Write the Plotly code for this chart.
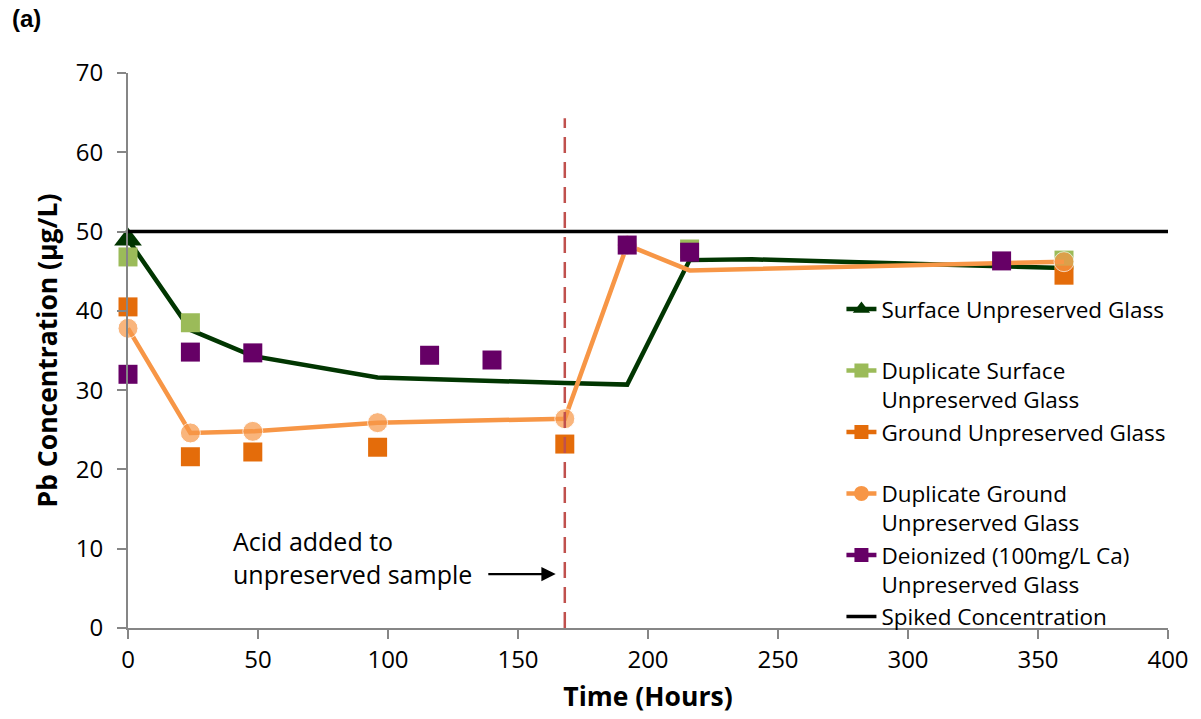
import plotly.graph_objects as go

# ---------------- data ----------------
surface_x = [0, 24, 48, 96, 168, 192, 216, 240, 360]
surface_y = [49.0, 37.6, 34.3, 31.6, 30.9, 30.7, 46.4, 46.5, 45.4]

dup_surface_x = [0, 24, 216, 360]
dup_surface_y = [46.8, 38.5, 47.8, 46.4]

ground_x = [0, 24, 48, 96, 168, 360]
ground_y = [40.5, 21.6, 22.2, 22.8, 23.2, 44.5]

dup_ground_x = [0, 24, 48, 96, 168, 192, 216, 360]
dup_ground_y = [37.8, 24.6, 24.8, 25.9, 26.4, 48.3, 45.1, 46.2]

deion_x = [0, 24, 48, 116, 140, 192, 216, 336]
deion_y = [32.0, 34.8, 34.7, 34.4, 33.8, 48.3, 47.4, 46.3]

spiked_x = [0, 400]
spiked_y = [50, 50]

acid_x = [168, 168]
acid_y = [0, 64.3]

x_ticks = [0, 50, 100, 150, 200, 250, 300, 350, 400]
y_ticks = [0, 10, 20, 30, 40, 50, 60, 70]

names = [
    "Surface Unpreserved Glass<br> ",
    "Duplicate Surface<br>Unpreserved Glass",
    "Ground Unpreserved Glass<br> ",
    "Duplicate Ground<br>Unpreserved Glass",
    "Deionized (100mg/L Ca)<br>Unpreserved Glass",
    "Spiked Concentration",
]

# ---------------- styles ----------------
C_SURF = "#013601"
C_DSURF = "#9BBB59"
C_GROUND = "#E46C0A"
C_DGROUND = "#F79646"
C_DEION = "#660066"
C_ACID = "#C0504D"
FONT = "Open Sans"

fig = go.Figure()

fig.add_trace(go.Scatter(
    x=surface_x, y=surface_y, mode="lines", showlegend=False, cliponaxis=False,
    line=dict(color=C_SURF, width=4.5),
))
fig.add_trace(go.Scatter(
    x=surface_x[:1], y=surface_y[:1], mode="markers", showlegend=False, cliponaxis=False,
    marker=dict(symbol="triangle-up", color=C_SURF, size=24),
))
fig.add_trace(go.Scatter(
    x=dup_surface_x, y=dup_surface_y, mode="markers", showlegend=False, cliponaxis=False,
    marker=dict(symbol="square", color=C_DSURF, size=19),
))
fig.add_trace(go.Scatter(
    x=ground_x, y=ground_y, mode="markers", showlegend=False, cliponaxis=False,
    marker=dict(symbol="square", color=C_GROUND, size=19),
))
fig.add_trace(go.Scatter(
    x=dup_ground_x, y=dup_ground_y, mode="lines+markers", showlegend=False, cliponaxis=False,
    line=dict(color=C_DGROUND, width=4.5),
    marker=dict(symbol="circle", color=C_DGROUND,
                size=[20 if x != 216 else 0 for x in dup_ground_x]),
))
fig.add_trace(go.Scatter(
    x=deion_x, y=deion_y, mode="markers", showlegend=False, cliponaxis=False,
    marker=dict(symbol="square", color=C_DEION, size=19),
))
fig.add_trace(go.Scatter(
    x=spiked_x, y=spiked_y, mode="lines", showlegend=False, cliponaxis=False,
    line=dict(color="black", width=3.5),
))
fig.add_trace(go.Scatter(
    x=acid_x, y=acid_y, mode="lines", showlegend=False, cliponaxis=False,
    line=dict(color=C_ACID, width=2.5, dash="16px,9px"),
))

# legend entries
legend_styles = [
    (C_SURF, "triangle-up", 15),
    (C_DSURF, "square", 14),
    (C_GROUND, "square", 14),
    (C_DGROUND, "circle", 15),
    (C_DEION, "square", 14),
    ("black", None, 0),
]
for nm, (col, sym, sz) in zip(names, legend_styles):
    if sym is None:
        fig.add_trace(go.Scatter(x=[None], y=[None], mode="lines", name=nm,
                                 line=dict(color=col, width=3.5)))
    else:
        fig.add_trace(go.Scatter(x=[None], y=[None], mode="lines+markers", name=nm,
                                 line=dict(color=col, width=4.5),
                                 marker=dict(symbol=sym, color=col, size=sz)))

# arrow + text annotation
fig.add_annotation(x=164.5, y=6.8, ax=138, ay=6.8, xref="x", yref="y",
                   axref="x", ayref="y", text="", showarrow=True,
                   arrowhead=2, arrowsize=1.3, arrowwidth=2.2, arrowcolor="black")
fig.add_annotation(x=39.5, y=8.95, xref="x", yref="y", xanchor="left", yanchor="middle",
                   align="left", showarrow=False,
                   text="Acid added to<br>unpreserved sample",
                   font=dict(family=FONT, size=25, color="black"))
fig.add_annotation(x=-0.113, y=1.098, xref="paper", yref="paper", xanchor="left", yanchor="middle",
                   showarrow=False, text="<b>(a)</b>",
                   font=dict(family="Liberation Sans", size=24, color="black"))

axis_common = dict(
    showgrid=False, zeroline=False, showline=True, linecolor="#868686", linewidth=2,
    ticks="outside", ticklen=9, tickwidth=2, tickcolor="#868686",
    tickfont=dict(family=FONT, size=24, color="black"),
)
fig.update_xaxes(range=[0, 400], tickvals=x_ticks,
                 title=dict(text="<b>Time (Hours)</b>", font=dict(family=FONT, size=26.5, color="black"),
                            standoff=14),
                 **axis_common)
fig.update_yaxes(range=[0, 70], tickvals=y_ticks, ticklabelstandoff=9,
                 title=dict(text="<b>Pb Concentration (µg/L)</b>", font=dict(family=FONT, size=26.5, color="black"),
                            standoff=10),
                 **axis_common)

fig.update_layout(
    width=1201, height=719,
    margin=dict(l=128, r=28, t=73, b=91),
    plot_bgcolor="white", paper_bgcolor="white",
    font=dict(family=FONT, color="black"),
    legend=dict(x=0.686, y=0.613, xanchor="left", yanchor="top", valign="top",
                font=dict(family=FONT, size=22.5, color="black"),
                bgcolor="rgba(0,0,0,0)", tracegroupgap=0),
)

fig.write_html("out.html")
